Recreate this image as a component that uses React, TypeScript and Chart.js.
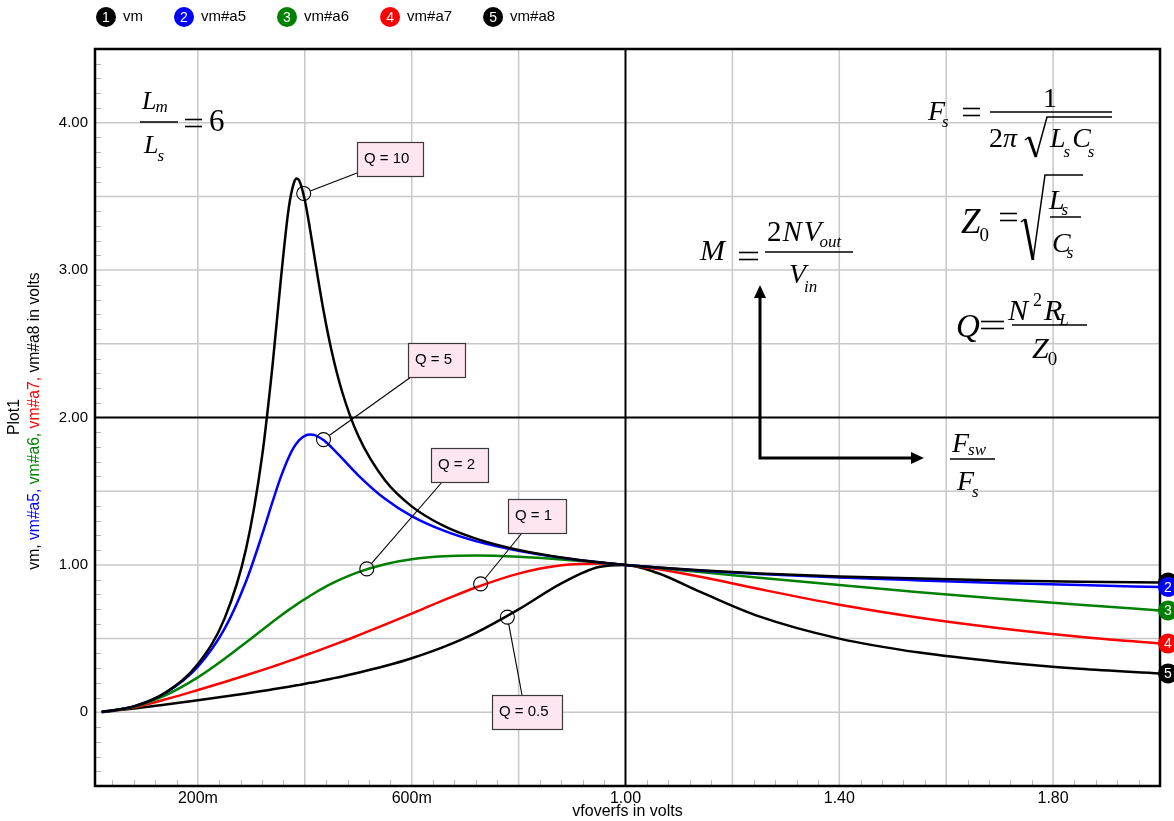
import React, { useEffect, useRef } from 'react';
import { Chart, registerables } from 'chart.js';

Chart.register(...registerables);

// ---------- data ----------
const FREQ = [0.02, 0.08, 0.14, 0.2, 0.25, 0.29, 0.32, 0.34, 0.355, 0.37, 0.38, 0.385, 0.39, 0.40, 0.41, 0.42, 0.435, 0.45, 0.47, 0.5, 0.55, 0.6, 0.66, 0.72, 0.8, 0.88, 0.95, 1.0, 1.06, 1.14, 1.25, 1.4, 1.55, 1.7, 1.85, 2.0];
const VM = [0.002, 0.040, 0.135, 0.327, 0.637, 1.107, 1.735, 2.366, 2.929, 3.422, 3.596, 3.621, 3.605, 3.476, 3.273, 3.047, 2.726, 2.455, 2.173, 1.876, 1.574, 1.397, 1.264, 1.178, 1.101, 1.050, 1.018, 1.000, 0.982, 0.963, 0.942, 0.922, 0.907, 0.895, 0.886, 0.880];
const VM_A5 = [0.002, 0.040, 0.133, 0.310, 0.567, 0.887, 1.203, 1.432, 1.595, 1.731, 1.800, 1.826, 1.848, 1.876, 1.885, 1.879, 1.847, 1.798, 1.722, 1.608, 1.448, 1.331, 1.232, 1.161, 1.095, 1.049, 1.018, 1.000, 0.982, 0.961, 0.938, 0.914, 0.895, 0.878, 0.863, 0.850];
const VM_A6 = [0.002, 0.038, 0.117, 0.237, 0.363, 0.474, 0.558, 0.614, 0.655, 0.695, 0.720, 0.732, 0.745, 0.768, 0.791, 0.813, 0.844, 0.873, 0.907, 0.951, 1.005, 1.038, 1.058, 1.063, 1.055, 1.037, 1.016, 1.000, 0.980, 0.951, 0.913, 0.863, 0.815, 0.771, 0.730, 0.691];
const VM_A7 = [0.002, 0.034, 0.088, 0.151, 0.206, 0.251, 0.286, 0.310, 0.329, 0.347, 0.360, 0.366, 0.373, 0.386, 0.399, 0.412, 0.432, 0.452, 0.479, 0.522, 0.595, 0.670, 0.761, 0.847, 0.941, 0.997, 1.010, 1.000, 0.972, 0.919, 0.836, 0.730, 0.642, 0.571, 0.513, 0.466];
const VM_A8 = [0.002, 0.025, 0.053, 0.082, 0.107, 0.128, 0.144, 0.156, 0.165, 0.174, 0.180, 0.183, 0.186, 0.193, 0.200, 0.206, 0.217, 0.228, 0.243, 0.268, 0.314, 0.367, 0.444, 0.539, 0.698, 0.875, 0.986, 1.000, 0.945, 0.817, 0.651, 0.500, 0.405, 0.342, 0.296, 0.264];

const SERIES_LABELS = ['vm', 'vm#a5', 'vm#a6', 'vm#a7', 'vm#a8'];
const SERIES_COLORS = ['#000000', '#0000ff', '#008000', '#ff0000', '#000000'];
const SERIES_VALUES = [VM, VM_A5, VM_A6, VM_A7, VM_A8];

const X_TICKS = [0.2, 0.6, 1.0, 1.4, 1.8];
const Y_TICKS = [0, 1, 2, 3, 4];
const GRID_X = [0.2, 0.4, 0.6, 0.8, 1.2, 1.4, 1.6, 1.8];
const GRID_Y = [0, 0.5, 1, 1.5, 2.5, 3, 3.5, 4];
const REF_X = 1.0;
const REF_Y = 2.0;

const Q_LABELS = ['Q = 10', 'Q = 5', 'Q = 2', 'Q = 1', 'Q = 0.5'];
const Q_MARK_X = [0.398, 0.435, 0.516, 0.729, 0.779];
const Q_MARK_Y = [3.52, 1.85, 0.973, 0.871, 0.646];
// box anchor (top-left) in data units, plus leader attachment offset in px
const Q_BOX = [
  { x: 0.497, y: 3.871, w: 66, dx: 0, dy: 31 },
  { x: 0.594, y: 2.503, w: 57, dx: 3, dy: 34 },
  { x: 0.6355, y: 1.796, w: 57, dx: 12, dy: 33 },
  { x: 0.781, y: 1.449, w: 58, dx: 14, dy: 34 },
  { x: 0.751, y: 0.116, w: 70, dx: 30, dy: 0 },
];

const SANS = '"Liberation Sans", Arial, sans-serif';
const SERIF = '"Liberation Serif", "Times New Roman", serif';

function line(ctx: CanvasRenderingContext2D, x1: number, y1: number, x2: number, y2: number) {
  ctx.beginPath();
  ctx.moveTo(x1, y1);
  ctx.lineTo(x2, y2);
  ctx.stroke();
}

function numCircle(ctx: CanvasRenderingContext2D, cx: number, cy: number, color: string, n: string) {
  ctx.beginPath();
  ctx.arc(cx, cy, 10, 0, Math.PI * 2);
  ctx.fillStyle = color;
  ctx.fill();
  ctx.fillStyle = '#ffffff';
  ctx.font = `14px ${SANS}`;
  ctx.textAlign = 'center';
  ctx.textBaseline = 'middle';
  ctx.fillText(n, cx, cy + 1);
}

type Piece = [string, number, boolean, number?, number?];

function drawFormulas(ctx: CanvasRenderingContext2D) {
  ctx.save();
  ctx.fillStyle = '#000';
  ctx.strokeStyle = '#000';
  ctx.textAlign = 'left';
  ctx.textBaseline = 'alphabetic';
  const run = (x: number, y: number, items: Piece[]) => {
    let cx = x;
    for (const [s, sz, it, dy = 0, dx = 0] of items) {
      ctx.font = `${it ? 'italic ' : ''}${sz}px ${SERIF}`;
      cx += dx;
      ctx.fillText(s, cx, y + dy);
      cx += ctx.measureText(s).width;
    }
    return cx;
  };
  const eq = (x: number, yc: number, w = 17) => {
    ctx.lineWidth = 1.6;
    line(ctx, x, yc - 3.5, x + w, yc - 3.5);
    line(ctx, x, yc + 3.5, x + w, yc + 3.5);
  };
  const bar = (x1: number, x2: number, y: number, w = 1.5) => { ctx.lineWidth = w; line(ctx, x1, y, x2, y); };
  const root = (x0: number, y0: number, xb: number, yb: number, xt: number, yt: number, xe: number) => {
    ctx.lineWidth = 1.5;
    line(ctx, x0, y0, x0 + 4, y0 - 3);
    ctx.lineWidth = 3;
    line(ctx, x0 + 4, y0 - 3, xb, yb);
    ctx.lineWidth = 1.5;
    ctx.beginPath();
    ctx.moveTo(xb, yb);
    ctx.lineTo(xt, yt);
    ctx.lineTo(xe, yt);
    ctx.stroke();
  };

  // Lm / Ls = 6
  run(142, 109, [['L', 26, true], ['m', 17, true, 3, -1]]);
  bar(140, 178, 122);
  run(144, 153, [['L', 26, true], ['s', 17, true, 8, -1]]);
  eq(185, 123);
  run(209, 131, [['6', 31, false]]);

  // Fs = 1 / (2π sqrt(Ls Cs))
  run(928, 120, [['F', 28, true], ['s', 17, true, 7, -3]]);
  eq(963, 112);
  run(1043, 107, [['1', 28, false]]);
  bar(990, 1112, 112);
  run(989, 147, [['2', 28, false], ['π', 28, true]]);
  root(1025, 140, 1036, 157, 1047, 117, 1112);
  run(1050, 147, [['L', 28, true], ['s', 17, true, 10, -2], ['C', 28, true, 0, 2], ['s', 17, true, 10, -3]]);

  // Z0 = sqrt(Ls/Cs)
  run(961, 233, [['Z', 35, true], ['0', 19, false, 8, -1]]);
  eq(1000, 217);
  root(1021, 222, 1033, 260, 1045, 175, 1083);
  run(1049, 209, [['L', 28, true], ['s', 17, true, 6, -3]]);
  bar(1050, 1081, 217);
  run(1052, 252, [['C', 28, true], ['s', 17, true, 6, -4]]);

  // Q = N^2 RL / Z0
  run(956, 337, [['Q', 33, true]]);
  eq(981, 325, 23);
  run(1008, 320, [['N', 30, true], ['2', 18, false, -14, 5], ['R', 30, true, 0, 2], ['L', 17, true, 5, -3]]);
  bar(1012, 1087, 325);
  run(1032, 358, [['Z', 30, true], ['0', 19, false, 7, -1]]);

  // M = 2NVout / Vin
  run(700, 260, [['M', 30, true]]);
  eq(739, 256, 19);
  run(767, 241, [['2', 29, false], ['N', 29, true, 0, 1], ['V', 29, true, 0, 2], ['out', 17, true, 6, -2]]);
  bar(765, 853, 252);
  run(789, 283, [['V', 28, true], ['in', 17, true, 9, -2]]);

  // Fsw / Fs
  run(952, 452, [['F', 28, true], ['sw', 17, true, 3, -1]]);
  bar(950, 995, 459);
  run(957, 490, [['F', 28, true], ['s', 17, true, 7, -2]]);

  // axes arrows
  ctx.lineWidth = 3;
  ctx.beginPath();
  ctx.moveTo(760, 297);
  ctx.lineTo(760, 458);
  ctx.lineTo(912, 458);
  ctx.stroke();
  ctx.beginPath();
  ctx.moveTo(760, 285); ctx.lineTo(754, 298); ctx.lineTo(766, 298); ctx.closePath(); ctx.fill();
  ctx.beginPath();
  ctx.moveTo(924, 458); ctx.lineTo(911, 452); ctx.lineTo(911, 464); ctx.closePath(); ctx.fill();
  ctx.restore();
}

const decorPlugin = {
  id: 'decor',
  beforeDatasetsDraw(chart: any) {
    const { ctx, chartArea: a, scales } = chart;
    const x = scales.x, y = scales.y;
    ctx.save();
    // gray grid
    ctx.strokeStyle = '#c8c8c8';
    ctx.lineWidth = 1.5;
    GRID_X.forEach((v) => { const p = x.getPixelForValue(v); line(ctx, p, a.top, p, a.bottom); });
    GRID_Y.forEach((v) => { const p = y.getPixelForValue(v); line(ctx, a.left, p, a.right, p); });
    // minor ticks
    ctx.strokeStyle = '#b4b4b4';
    ctx.lineWidth = 1;
    for (let i = -4; i <= 44; i++) {
      if (i % 5 === 0) continue;
      const p = Math.round(y.getPixelForValue(i / 10)) + 0.5;
      line(ctx, a.left + 1, p, a.left + 6, p);
    }
    for (let i = 1; i < 50; i++) {
      if (i % 5 === 0) continue;
      const p = Math.round(x.getPixelForValue(i * 0.04)) + 0.5;
      line(ctx, p, a.bottom - 6, p, a.bottom - 1);
    }
    // black reference lines
    ctx.strokeStyle = '#000';
    ctx.lineWidth = 2;
    const rx = x.getPixelForValue(REF_X);
    line(ctx, rx, a.top, rx, a.bottom);
    const ry = y.getPixelForValue(REF_Y);
    line(ctx, a.left, ry, a.right, ry);
    ctx.restore();
  },
  afterDatasetsDraw(chart: any) {
    const { ctx, chartArea: a, scales } = chart;
    const x = scales.x, y = scales.y;
    ctx.save();
    // border
    ctx.strokeStyle = '#000';
    ctx.lineWidth = 2.5;
    ctx.strokeRect(a.left, a.top, a.right - a.left, a.bottom - a.top);

    // Q annotations
    Q_LABELS.forEach((label, i) => {
      const cx = x.getPixelForValue(Q_MARK_X[i]);
      const cy = y.getPixelForValue(Q_MARK_Y[i]);
      const b = Q_BOX[i];
      const bx = Math.round(x.getPixelForValue(b.x));
      const by = Math.round(y.getPixelForValue(b.y));
      const tx = bx + b.dx, ty = by + b.dy;
      const ang = Math.atan2(ty - cy, tx - cx);
      ctx.strokeStyle = '#000';
      ctx.lineWidth = 1.1;
      line(ctx, cx + Math.cos(ang) * 7, cy + Math.sin(ang) * 7, tx, ty);
      ctx.beginPath();
      ctx.arc(cx, cy, 7, 0, Math.PI * 2);
      ctx.stroke();
      ctx.fillStyle = '#fde6f0';
      ctx.fillRect(bx, by, b.w, 34);
      ctx.strokeStyle = '#3a3a3a';
      ctx.lineWidth = 1.2;
      ctx.strokeRect(bx + 0.5, by + 0.5, b.w, 34);
      ctx.fillStyle = '#000';
      ctx.font = `15px ${SANS}`;
      ctx.textAlign = 'left';
      ctx.textBaseline = 'alphabetic';
      ctx.fillText(label, bx + 7, by + 21);
    });

    // end markers on the right edge
    SERIES_VALUES.forEach((vals, i) => {
      const py = y.getPixelForValue(vals[vals.length - 1]);
      numCircle(ctx, a.right + 8, py, SERIES_COLORS[i], String(i + 1));
    });

    // top legend
    let cx = 106;
    SERIES_LABELS.forEach((label, i) => {
      numCircle(ctx, cx, 17, SERIES_COLORS[i], String(i + 1));
      ctx.fillStyle = '#000';
      ctx.font = `15px ${SANS}`;
      ctx.textAlign = 'left';
      ctx.textBaseline = 'middle';
      const tx = cx + 17;
      ctx.fillText(label, tx, 17);
      cx = tx + ctx.measureText(label).width + 41;
    });

    // y axis titles (rotated, multicolour)
    ctx.font = `15.7px ${SANS}`;
    ctx.textBaseline = 'middle';
    ctx.textAlign = 'left';
    const parts: [string, string][] = [
      ['vm, ', '#000000'],
      ['vm#a5, ', '#0000ff'],
      ['vm#a6, ', '#008000'],
      ['vm#a7, ', '#ff0000'],
      ['vm#a8 in volts', '#000000'],
    ];
    const total = parts.reduce((s, p) => s + ctx.measureText(p[0]).width, 0);
    ctx.save();
    ctx.translate(35, 421);
    ctx.rotate(-Math.PI / 2);
    let px = -total / 2;
    parts.forEach(([s, c]) => {
      ctx.fillStyle = c;
      ctx.fillText(s, px, 0);
      px += ctx.measureText(s).width;
    });
    ctx.restore();
    ctx.save();
    ctx.translate(15, 417);
    ctx.rotate(-Math.PI / 2);
    ctx.fillStyle = '#000';
    ctx.textAlign = 'center';
    ctx.fillText('Plot1', 0, 0);
    ctx.restore();

    drawFormulas(ctx);
    ctx.restore();
  },
};

export default function App() {
  const ref = useRef<HTMLCanvasElement>(null);
  useEffect(() => {
    if (!ref.current) return;
    const datasets = SERIES_LABELS.map((label, i) => ({
      label,
      data: FREQ.map((f, j) => ({ x: f, y: SERIES_VALUES[i][j] })),
      borderColor: SERIES_COLORS[i],
      backgroundColor: SERIES_COLORS[i],
      borderWidth: 2.5,
      pointRadius: 0,
      fill: false,
      cubicInterpolationMode: 'monotone' as const,
    }));
    const chart = new Chart(ref.current, {
      type: 'line',
      data: { datasets },
      options: {
        animation: false,
        responsive: false,
        devicePixelRatio: 1,
        layout: { padding: { left: 0, right: 14, top: 49, bottom: 0 } },
        plugins: { legend: { display: false }, tooltip: { enabled: false }, title: { display: false } },
        scales: {
          x: {
            type: 'linear',
            min: 0.0075,
            max: 2.0,
            afterBuildTicks: (s: any) => { s.ticks = X_TICKS.map((v) => ({ value: v })); },
            afterFit: (s: any) => { s.height = 35; },
            ticks: {
              autoSkip: false,
              maxRotation: 0,
              padding: 3,
              color: '#000',
              font: { family: SANS, size: 16 },
              callback: (v: any) => (v < 1 ? `${Math.round(v * 1000)}m` : Number(v).toFixed(2)),
            },
            grid: { display: false, drawTicks: false },
            border: { display: false },
            title: { display: true, text: 'vfoverfs in volts', color: '#000', font: { family: SANS, size: 16 }, padding: { top: 0, bottom: 0 } },
          },
          y: {
            type: 'linear',
            min: -0.5,
            max: 4.5,
            afterBuildTicks: (s: any) => { s.ticks = Y_TICKS.map((v) => ({ value: v })); },
            afterFit: (s: any) => { s.width = 95; },
            ticks: {
              padding: 7,
              color: '#000',
              font: { family: SANS, size: 15 },
              callback: (v: any) => (v === 0 ? '0' : Number(v).toFixed(2)),
            },
            grid: { display: false, drawTicks: false },
            border: { display: false },
          },
        },
      },
      plugins: [decorPlugin],
    });
    return () => chart.destroy();
  }, []);
  return (
    <div style={{ position: 'absolute', left: 0, top: 0, width: 1174, height: 821, background: '#ffffff' }}>
      <canvas ref={ref} width={1174} height={821} style={{ display: 'block' }} />
    </div>
  );
}
